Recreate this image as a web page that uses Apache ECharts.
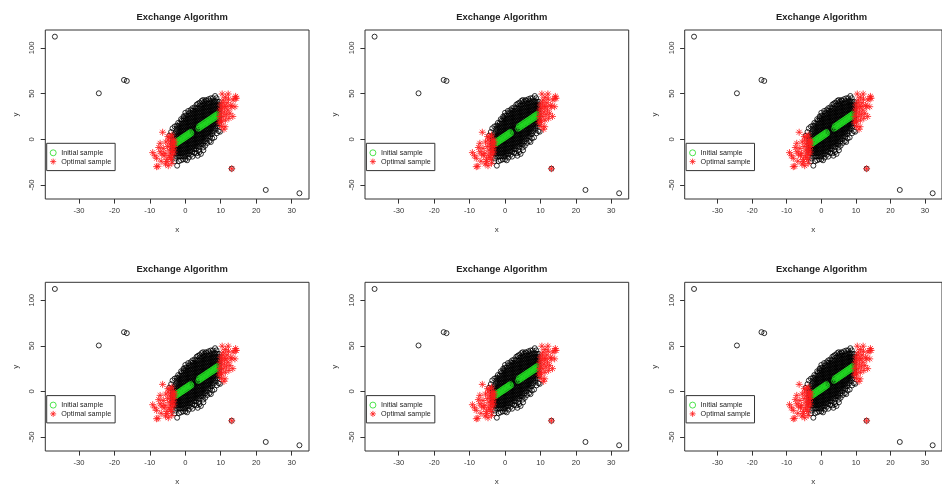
<!DOCTYPE html>
<html>
<head>
<meta charset="utf-8">
<script src="https://cdn.jsdelivr.net/npm/echarts@6/dist/echarts.min.js"></script>
<style>
  html, body { margin: 0; padding: 0; background: #ffffff; }
  #chart { width: 942px; height: 487px; }
</style>
</head>
<body>
<div id="chart"></div>
<script>
// ---- data -------------------------------------------------------------
const titleText = 'Exchange Algorithm';
const xTicks = [-30, -20, -10, 0, 10, 20, 30];
const yTicks = [-50, 0, 50, 100];
const legendNames = ['Initial sample', 'Optimal sample'];

// dense central cloud of the population, listed as x -> y values
const cloudColumns = [
  [-3.5, [-15,-12,-9,-6,-3,0,3]],
  [-3.0, [-15.1,-12.1,-9.1,-6.1,-3.1,-0.1,2.9,5.9]],
  [-2.5, [-18.3,-15.3,-12.3,-9.3,-6.3,-3.3,-0.3,2.7,5.7,8.7,11.7]],
  [-2.0, [-18.4,-15.4,-12.4,-9.4,-6.4,-3.4,-0.4,2.6,5.6,8.6,11.6,14.6]],
  [-1.5, [-18.6,-15.6,-12.6,-9.6,-6.6,-3.6,-0.6,2.4,5.4,8.4,11.4,14.4,17.4]],
  [-1.0, [-18.7,-15.7,-12.7,-9.7,-6.7,-3.7,-0.7,2.3,5.3,8.3,11.3,14.3,17.3,20.3]],
  [-0.5, [-18.8,-15.8,-12.8,-9.8,-6.8,-3.8,-0.8,2.2,5.2,8.2,11.2,14.2,17.2,20.2,23.2]],
  [0.0,  [-19,-16,-13,-10,-7,-4,-1,2,5,8,11,14,17,20,23,26]],
  [0.5,  [-16.1,-13.1,-10.1,-7.1,-4.1,-1.1,1.9,4.9,7.9,10.9,13.9,16.9,19.9,22.9,25.9]],
  [1.0,  [-16.3,-13.3,-10.3,-7.3,-4.3,-1.3,1.7,4.7,7.7,10.7,13.7,16.7,19.7,22.7,25.7,28.7]],
  [1.5,  [-13.4,-10.4,-7.4,-4.4,-1.4,1.6,4.6,7.6,10.6,13.6,16.6,19.6,22.6,25.6,28.6]],
  [2.0,  [-13.6,-10.6,-7.6,-4.6,-1.6,1.4,4.4,7.4,10.4,13.4,16.4,19.4,22.4,25.4,28.4,31.4]],
  [2.5,  [-10.7,-7.7,-4.7,-1.7,1.3,4.3,7.3,10.3,13.3,16.3,19.3,22.3,25.3,28.3,31.3]],
  [3.0,  [-10.9,-7.9,-4.9,-1.9,1.1,4.1,7.1,10.1,13.1,16.1,19.1,22.1,25.1,28.1,31.1,34.1]],
  [3.5,  [-8,-5,-2,1,4,7,10,13,16,19,22,25,28,31,34]],
  [4.0,  [-8.2,-5.2,-2.2,0.8,3.8,6.8,9.8,12.8,15.8,18.8,21.8,24.8,27.8,30.8,33.8,36.8]],
  [4.5,  [-5.3,-2.3,0.7,3.7,6.7,9.7,12.7,15.7,18.7,21.7,24.7,27.7,30.7,33.7,36.7]],
  [5.0,  [-5.5,-2.5,0.5,3.5,6.5,9.5,12.5,15.5,18.5,21.5,24.5,27.5,30.5,33.5,36.5,39.5]],
  [5.5,  [-2.6,0.4,3.4,6.4,9.4,12.4,15.4,18.4,21.4,24.4,27.4,30.4,33.4,36.4,39.4]],
  [6.0,  [0.2,3.2,6.2,9.2,12.2,15.2,18.2,21.2,24.2,27.2,30.2,33.2,36.2,39.2]],
  [6.5,  [3.1,6.1,9.1,12.1,15.1,18.1,21.1,24.1,27.1,30.1,33.1,36.1,39.1]],
  [7.0,  [2.9,5.9,8.9,11.9,14.9,17.9,20.9,23.9,26.9,29.9,32.9,35.9,38.9,41.9]],
  [7.5,  [5.8,8.8,11.8,14.8,17.8,20.8,23.8,26.8,29.8,32.8,35.8,38.8,41.8]],
  [8.0,  [8.6,11.6,14.6,17.6,20.6,23.6,26.6,29.6,32.6,35.6,38.6,41.6]],
  [8.5,  [11.5,14.5,17.5,20.5,23.5,26.5,29.5,32.5,35.5,38.5,41.5]],
  [9.0,  [14.3,17.3,20.3,23.3,26.3,29.3,32.3,35.3,38.3,41.3]],
  [9.5,  [17.2,20.2,23.2,26.2,29.2,32.2,35.2,38.2,41.2]]
];

// scattered members of the population around the cloud, plus outliers
const fringePoints = [
  // upper side
  [-4.5,4],[-4,8],[-3.6,12],[-3,14],[-2.4,15],[-2,18],[-1.2,22],[-0.5,25],
  [0,29],[0.8,31],[1.5,32],[2,34],[2.6,35],[3.2,38],[3.6,39],[4,40],
  [4.6,42],[5,43],[5.4,41.5],[5.8,43],[6,42],[6.6,44],[7.2,44.9],[7.8,45],
  [8.4,47.4],[8.8,45],
  // lower side
  [-3,-24],[-2.8,-21],[-2.3,-28.9],[-1.8,-24],[-1.2,-23],[-0.6,-22],[0,-22],
  [0.5,-23],[1,-20],[1.6,-17],[2,-19],[2.6,-15],[3.2,-15.3],[3.5,-18],
  [3.8,-12],[4,-14],[4.4,-16],[5,-9],[5.1,-12],[5.6,-7],[6.2,-4],[6.8,-2],
  [7.2,-3],[7.6,1],[8.2,2],[8.9,6.6],[9.4,9],[9.8,8.3],
  // outliers
  [-36.8,112.4],[-24.4,50.4],[-17.3,65],[-16.5,63.9],[22.7,-55.5],[32.2,-59.1],
  [13.1,-32.2]
];

// initial sample (green): points along the fitted band, with a gap in the middle
const initialSample = [
  [-2.9,-3.6],[-2.7,-5.2],[-2.5,-2.6],[-2.3,-4.0],[-2.1,-1.2],[-1.9,-3.2],
  [-1.7,-0.5],[-1.5,-2.0],[-1.3,0.8],[-1.1,-1.0],[-0.9,1.9],[-0.7,0.1],
  [-0.5,2.8],[-0.3,1.0],[-0.1,4.0],[0.1,2.1],[0.3,5.0],[0.5,3.1],
  [0.7,6.0],[0.9,4.2],[1.1,7.1],[1.3,5.3],[1.5,8.0],[1.7,6.5],
  [3.7,11.6],[3.9,14.3],[4.1,12.5],[4.3,15.4],[4.5,13.6],[4.7,16.4],
  [4.9,14.6],[5.1,17.5],[5.3,15.6],[5.5,18.5],[5.7,16.6],[5.9,19.5],
  [6.1,17.7],[6.3,20.6],[6.5,18.7],[6.7,21.6],[6.9,19.8],[7.1,22.7],
  [7.3,20.8],[7.5,23.7],[7.7,21.8],[7.9,24.8],[8.1,22.9],[8.3,25.8],
  [8.5,23.9],[8.7,26.9],[8.9,25.0],[9.1,27.9],[9.3,26.2]
];

// optimal sample (red asterisks): both extreme ends of the cloud
const optimalSample = [
  [-9.2,-14.6],[-8.6,-18],[-8.1,-20.8],[-8.1,-30],[-7.7,-29.5],[-7.5,-9],
  [-7.1,-13.6],[-7.1,-4.4],[-6.8,-24],[-6.6,-16],[-6.4,7.7],[-6.2,-10],
  [-6,-18],[-5.7,-15.3],[-5.6,-27],[-5.5,-3],[-5.2,-24.5],[-5.2,-22],
  [-5,-8],[-4.9,3],[-4.8,-28.9],[-4.8,-0.8],[-4.6,-18],[-4.5,-12],
  [-4.4,-5],[-4.3,2.8],[-4.2,-20],[-4,-14],[-3.9,-8],[-3.9,-22],
  [-3.8,4.7],[-3.8,-26.3],[-3.7,-2],[-3.6,-17],[-3.5,-11],[-3.4,-5],
  [-3.3,0],[-3.2,-14],[-3.1,-8],[-3,-3],
  [9.6,18],[9.7,25],[9.8,32],[9.9,21],[10,37.6],[10.1,28],[10.2,14],
  [10.3,19.3],[10.4,49.6],[10.5,34],[10.6,40],[10.7,24.8],[10.7,43],
  [10.9,11],[11,30],[11.1,36],[11.2,13.8],[11.3,21],[11.3,46],[11.5,35.7],
  [11.6,27],[11.8,40],[12,32],[12.1,49.6],[12.2,44],[12.3,23],[12.6,28.5],
  [12.8,37],[13.1,35.7],[13.4,25],[13.5,43],[14,35.7],[14.1,44.9],
  [14.2,47],[14.4,45],[13.1,-32.2]
];

const population = cloudColumns
  .flatMap(([x, ys]) => ys.map(y => [x, y]))
  .concat(fringePoints);

// ---- layout -----------------------------------------------------------
const FONT = '"Liberation Sans", Arial, sans-serif';
const colLeft = [45.3, 365.0, 684.7];
const rowTop = [30.0, 282.3];
const plotW = 263.7;
const plotH = 169.0;
const xRange = [-39.5, 34.9];
const yRange = [-65.4, 119.7];
const GREEN = '#22dd22';
const RED = '#ff1a1a';
const ASTERISK = 'path://M0 5L10 5M5 0L5 10M1.5 1.5L8.5 8.5M8.5 1.5L1.5 8.5';

const grids = [], xAxes = [], yAxes = [], series = [], titles = [], legends = [];

for (let r = 0; r < 2; r++) {
  for (let c = 0; c < 3; c++) {
    const i = grids.length;
    const left = colLeft[c], top = rowTop[r];
    grids.push({
      left: left, top: top, width: plotW, height: plotH,
      show: true, borderColor: '#333', borderWidth: 1, backgroundColor: 'transparent'
    });
    xAxes.push({
      type: 'value', gridIndex: i, min: xRange[0], max: xRange[1],
      name: 'x', nameLocation: 'middle', nameGap: 27,
      nameTextStyle: { fontFamily: FONT, fontSize: 8, color: '#333' },
      axisLine: { show: false, onZero: false },
      axisTick: { show: true, length: 4.6, inside: false, customValues: xTicks,
                  lineStyle: { color: '#333', width: 1 } },
      axisLabel: { customValues: xTicks, margin: 8, fontFamily: FONT, fontSize: 7.6, color: '#333' },
      splitLine: { show: false }
    });
    yAxes.push({
      type: 'value', gridIndex: i, min: yRange[0], max: yRange[1],
      name: 'y', nameLocation: 'middle', nameGap: 26, nameRotate: 90,
      nameTextStyle: { fontFamily: FONT, fontSize: 8, color: '#333' },
      axisLine: { show: false, onZero: false },
      axisTick: { show: true, length: 4.6, inside: false, customValues: yTicks,
                  lineStyle: { color: '#333', width: 1 } },
      axisLabel: { customValues: yTicks, rotate: 90, margin: 9, fontFamily: FONT, fontSize: 7.6, color: '#333' },
      splitLine: { show: false }
    });
    titles.push({
      text: titleText, left: left + plotW / 2, top: top - 22, textAlign: 'center',
      textStyle: { fontFamily: FONT, fontSize: 9.4, fontWeight: 'bold', color: '#222' }
    });
    series.push({
      type: 'scatter', name: 'Population', xAxisIndex: i, yAxisIndex: i,
      data: population, symbol: 'circle', symbolSize: 5, silent: true, z: 1,
      itemStyle: { color: 'rgba(0,0,0,0)', borderColor: '#000', borderWidth: 1 }
    });
    series.push({
      type: 'scatter', name: legendNames[0], xAxisIndex: i, yAxisIndex: i,
      data: initialSample, symbol: 'circle', symbolSize: 5, silent: true, z: 2,
      itemStyle: { color: 'rgba(0,0,0,0)', borderColor: GREEN, borderWidth: 1 }
    });
    series.push({
      type: 'scatter', name: legendNames[1], xAxisIndex: i, yAxisIndex: i,
      data: optimalSample, symbol: ASTERISK, symbolSize: 7, silent: true, z: 3,
      itemStyle: { color: 'rgba(0,0,0,0)', borderColor: RED, borderWidth: 1 }
    });
    legends.push({
      orient: 'vertical', left: left + 1.4, top: top + 113.3,
      itemWidth: 6, itemHeight: 6, itemGap: 1.8, padding: [6, 4, 5.5, 3],
      backgroundColor: '#fff', borderColor: '#333', borderWidth: 1,
      selectedMode: false,
      textStyle: { fontFamily: FONT, fontSize: 7.2, color: '#222' },
      data: [
        { name: legendNames[0], icon: 'circle',
          itemStyle: { color: 'rgba(0,0,0,0)', borderColor: GREEN, borderWidth: 1 } },
        { name: legendNames[1], icon: ASTERISK,
          itemStyle: { color: 'rgba(0,0,0,0)', borderColor: RED, borderWidth: 1 } }
      ]
    });
  }
}

const chart = echarts.init(document.getElementById('chart'), null, { renderer: 'canvas' });
chart.setOption({
  animation: false,
  backgroundColor: '#ffffff',
  title: titles,
  legend: legends,
  grid: grids,
  xAxis: xAxes,
  yAxis: yAxes,
  series: series
});
</script>
</body>
</html>
